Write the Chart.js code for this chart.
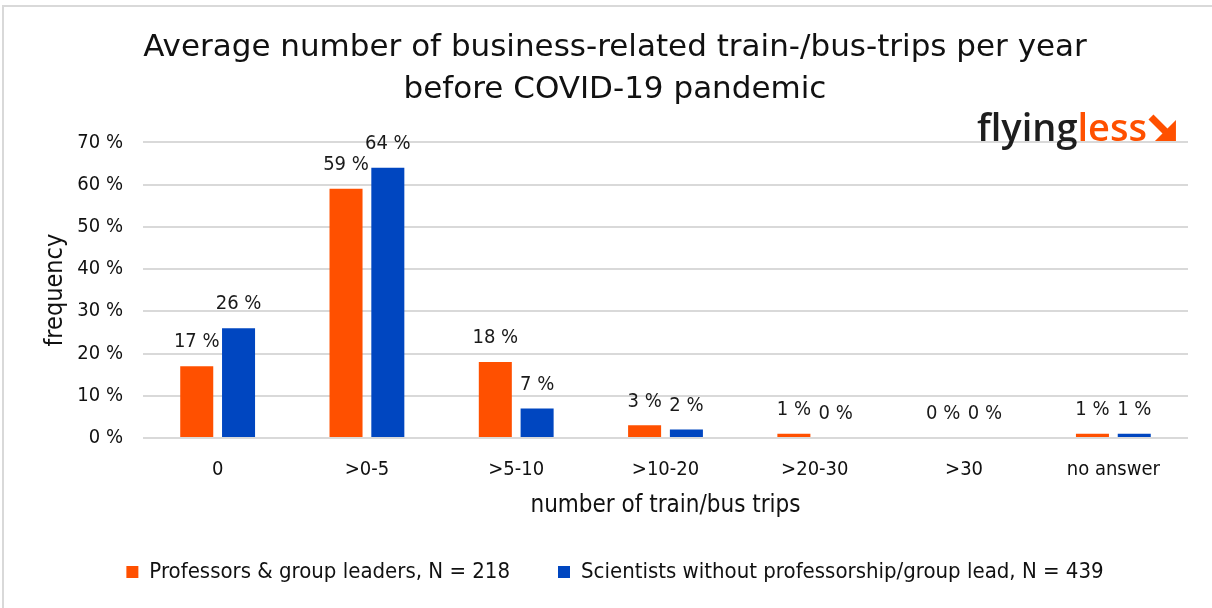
<!DOCTYPE html>
<html>
<head>
<meta charset="utf-8">
<script src="https://cdn.jsdelivr.net/npm/chart.js@4.4.0/dist/chart.umd.min.js"></script>
<style>
  html, body { margin: 0; padding: 0; background: #fff; overflow: hidden; }
  #frame {
    position: absolute; left: 2px; top: 5px;
    width: 1300px; height: 700px;
    border-left: 2px solid #d9d9d9; border-top: 2px solid #d9d9d9;
  }
  #wrap { position: absolute; left: 0; top: 0; width: 1212px; height: 608px; }
</style>
</head>
<body>
<div id="frame"></div>
<div id="wrap"><canvas id="tripsChart"></canvas></div>
<script>
// categories and series (percent)
const categories = ['0', '>0-5', '>5-10', '>10-20', '>20-30', '>30', 'no answer'];
const professors = [17, 59, 18, 3, 1, 0, 1];
const scientists = [26, 64, 7, 2, 0, 0, 1];
const seriesNames = ['Professors & group leaders, N = 218', 'Scientists without professorship/group lead, N = 439'];
const yTicks = [0, 10, 20, 30, 40, 50, 60, 70];

const FONT = '"DejaVu Sans Condensed", "DejaVu Sans", sans-serif';
const TITLE_FONT = '"DejaVu Sans", sans-serif';
const ORANGE = '#ff5000';
const BLUE = '#0046c0';

// value labels above each bar
const valueLabels = {
  id: 'valueLabels',
  afterDatasetsDraw(chart) {
    const ctx = chart.ctx;
    ctx.save();
    ctx.font = '20px ' + FONT;
    ctx.fillStyle = '#1a1a1a';
    ctx.textAlign = 'center';
    ctx.textBaseline = 'middle';
    chart.data.datasets.forEach((ds, i) => {
      chart.getDatasetMeta(i).data.forEach((bar, j) => {
        ctx.fillText(ds.data[j] + ' %', bar.x, bar.y - 24);
      });
    });
    ctx.restore();
  }
};

// flyingless logo, top right
const logo = {
  id: 'logo',
  afterDraw(chart) {
    const ctx = chart.ctx;
    ctx.save();
    ctx.font = '600 38px "Open Sans", sans-serif';
    ctx.textBaseline = 'alphabetic';
    ctx.textAlign = 'left';
    const x0 = 977, y0 = 141;
    ctx.fillStyle = '#1e1e1e';
    ctx.fillText('flying', x0, y0);
    const w1 = ctx.measureText('flying').width;
    ctx.fillStyle = ORANGE;
    ctx.fillText('less', x0 + w1, y0);
    const w2 = ctx.measureText('less').width;
    // arrow
    const ax = x0 + w1 + w2 + 4, ay = 117;
    ctx.strokeStyle = ORANGE;
    ctx.lineWidth = 7;
    ctx.beginPath();
    ctx.moveTo(ax, ay);
    ctx.lineTo(ax + 16, ay + 16);
    ctx.stroke();
    ctx.fillStyle = ORANGE;
    ctx.beginPath();
    ctx.moveTo(ax + 25, ay + 3);
    ctx.lineTo(ax + 25, ay + 24);
    ctx.lineTo(ax + 4, ay + 24);
    ctx.closePath();
    ctx.fill();
    ctx.restore();
  }
};

new Chart(document.getElementById('tripsChart').getContext('2d'), {
  type: 'bar',
  data: {
    labels: categories,
    datasets: [
      { label: seriesNames[0], data: professors, backgroundColor: ORANGE },
      { label: seriesNames[1], data: scientists, backgroundColor: BLUE }
    ]
  },
  options: {
    responsive: true,
    maintainAspectRatio: false,
    animation: false,
    categoryPercentage: 0.56,
    barPercentage: 0.79,
    layout: { padding: { left: 42, right: 24, top: 0, bottom: 15 } },
    plugins: {
      title: {
        display: true,
        text: ['Average number of business-related train-/bus-trips per year', 'before COVID-19 pandemic'],
        color: '#111',
        font: { family: TITLE_FONT, size: 31, weight: 'normal', lineHeight: 1.36 },
        padding: { top: 27, bottom: 31 }
      },
      legend: {
        position: 'bottom',
        labels: {
          color: '#111',
          font: { family: FONT, size: 22 },
          boxWidth: 12, boxHeight: 12,
          padding: 48
        }
      },
      tooltip: { enabled: false }
    },
    scales: {
      x: {
        afterFit: (s) => { s.height = 75; },
        grid: { display: false },
        border: { display: false },
        ticks: { color: '#111', font: { family: FONT, size: 20 }, padding: 12 },
        title: {
          display: true, text: 'number of train/bus trips', color: '#111',
          font: { family: FONT, size: 24, lineHeight: 0.6 }, padding: { top: 0, bottom: 0 }
        }
      },
      y: {
        min: 0, max: 70,
        afterFit: (s) => { s.width = 101; },
        afterBuildTicks: (s) => { s.ticks = yTicks.map(v => ({ value: v })); },
        grid: { color: '#d9d9d9', lineWidth: 2, drawTicks: false },
        border: { display: false },
        ticks: {
          color: '#111', font: { family: FONT, size: 20 }, padding: 20,
          callback: (v) => v + ' %'
        },
        title: {
          display: true, text: 'frequency', color: '#111',
          font: { family: FONT, size: 25, lineHeight: 1.1 }, padding: { top: 0, bottom: 0 }
        }
      }
    }
  },
  plugins: [valueLabels, logo]
});
</script>
</body>
</html>
